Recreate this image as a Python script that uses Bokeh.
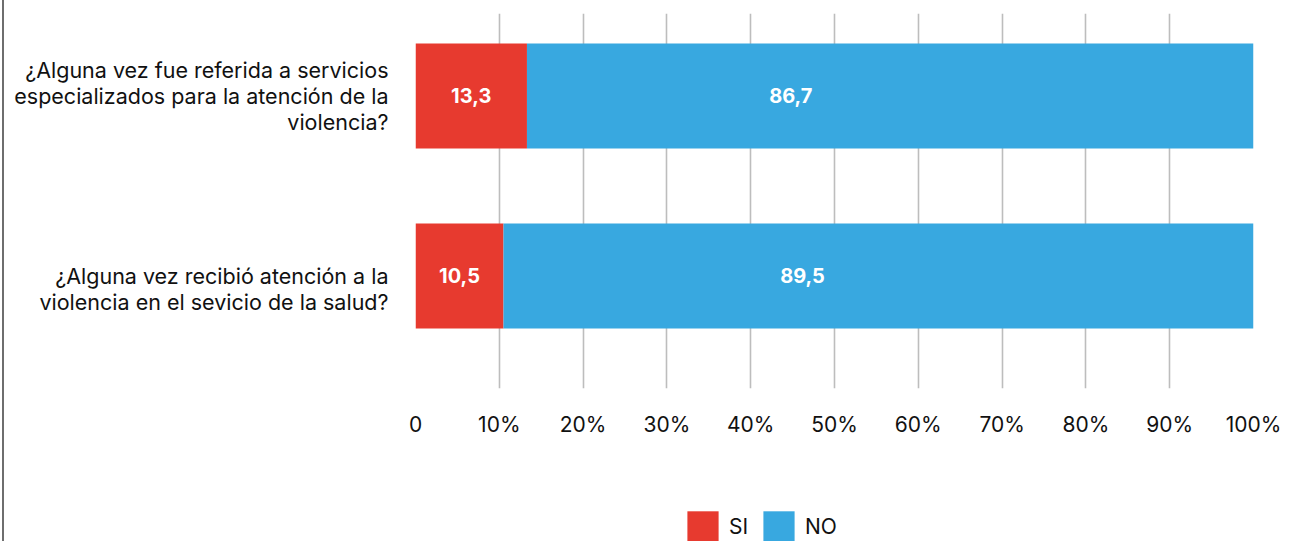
from bokeh.plotting import figure
from bokeh.layouts import column
from bokeh.models import ColumnDataSource, FixedTicker, Range1d, Legend, LegendItem
from bokeh.core.properties import value
from bokeh.embed import file_html
from bokeh.resources import INLINE

# ---- data ----
questions = [
    "¿Alguna vez fue referida a servicios\nespecializados para la atención de la\nviolencia?",
    "¿Alguna vez recibió atención a la\nviolencia en el sevicio de la salud?",
]
si_values = [13.3, 10.5]
no_values = [86.7, 89.5]
series_names = ["SI", "NO"]
tick_values = [0, 10, 20, 30, 40, 50, 60, 70, 80, 90, 100]
tick_labels = ["0", "10%", "20%", "30%", "40%", "50%", "60%", "70%", "80%", "90%", "100%"]

RED = "#e73a2f"
BLUE = "#38a8e0"
FONT = "Inter"

ypos = [1, 0]  # top question first
src = ColumnDataSource(dict(
    y=ypos,
    si_end=si_values,
    no_end=[s + n for s, n in zip(si_values, no_values)],
    si_mid=[s / 2 for s in si_values],
    no_mid=[n / 2 for n in no_values],
    si_lab=[f"{v:.1f}".replace(".", ",") for v in si_values],
    no_lab=[f"{v:.1f}".replace(".", ",") for v in no_values],
))

p = figure(width=1286, height=470, output_backend="svg", toolbar_location=None,
           x_range=Range1d(0, 100), y_range=Range1d(-0.625, 1.458),
           min_border_left=411, min_border_right=37, min_border_top=13,
           min_border_bottom=82)
p.outline_line_color = None
p.background_fill_color = "white"

bar_h = 0.583
p.hbar(y="y", left=0, right="si_end", height=bar_h, source=src,
       fill_color=RED, line_color=None)
p.hbar(y="y", left="si_end", right="no_end", height=bar_h, source=src,
       fill_color=BLUE, line_color=None)

p.text(x="si_mid", y="y", text="si_lab", source=src, text_color="white",
       text_font=value(FONT), text_font_style="bold", text_font_size="20px",
       text_align="center", text_baseline="middle")
p.text(x="no_mid", y="y", text="no_lab", source=src, text_color="white",
       text_font=value(FONT), text_font_style="bold", text_font_size="20px",
       text_align="center", text_baseline="middle", x_offset=12)

# x axis
xa = p.xaxis[0]
xa.ticker = FixedTicker(ticks=tick_values)
xa.major_label_overrides = {v: l for v, l in zip(tick_values, tick_labels)}
xa.axis_line_color = None
xa.major_tick_line_color = None
xa.minor_tick_line_color = None
xa.major_label_text_font = FONT
xa.major_label_text_font_size = "21px"
xa.major_label_text_color = "#111111"
xa.major_label_standoff = 17

p.xgrid.ticker = FixedTicker(ticks=tick_values)
p.xgrid.grid_line_color = "#bdbdbd"
p.xgrid.grid_line_width = 1.6
p.ygrid.grid_line_color = None

# y axis (the second question sits slightly lower in the reference)
label_text = [questions[0], "\n" + questions[1]]
ya = p.yaxis[0]
ya.ticker = FixedTicker(ticks=ypos)
ya.major_label_overrides = {y: q for y, q in zip(ypos, label_text)}
ya.axis_line_color = None
ya.major_tick_line_color = None
ya.minor_tick_line_color = None
ya.major_label_text_font = FONT
ya.major_label_text_font_size = "21.5px"
ya.major_label_text_color = "#111111"
ya.major_label_text_line_height = 1.0
ya.major_label_standoff = 21

# legend strip (zero-width placeholder bars supply the legend swatches)
lsrc = ColumnDataSource(dict(y=[0.5], l=[0], r=[0]))
lg = figure(width=1286, height=71, output_backend="svg", toolbar_location=None,
            x_range=Range1d(0, 1), y_range=Range1d(0, 1),
            min_border_left=0, min_border_right=0, min_border_top=0,
            min_border_bottom=0)
lg.axis.visible = False
lg.grid.visible = False
lg.outline_line_color = None
l_si = lg.hbar(y="y", left="l", right="r", height=1, source=lsrc,
               fill_color=RED, line_color=None)
l_no = lg.hbar(y="y", left="l", right="r", height=1, source=lsrc,
               fill_color=BLUE, line_color=None)
legend = Legend(items=[LegendItem(label=series_names[0], renderers=[l_si]),
                       LegendItem(label=series_names[1], renderers=[l_no])],
                orientation="horizontal", location=(268, -4),
                glyph_width=39, glyph_height=38, label_standoff=7, spacing=10,
                padding=0, margin=0, border_line_color=None,
                background_fill_alpha=0, label_text_font=FONT,
                label_text_font_size="21px", label_text_color="#111111")
lg.add_layout(legend, "center")

layout = column(p, lg, spacing=0)
layout.styles = {"border-left": "2px solid #6e6e6e", "margin-left": "2px"}

open("out.html", "w").write(file_html(layout, INLINE))
